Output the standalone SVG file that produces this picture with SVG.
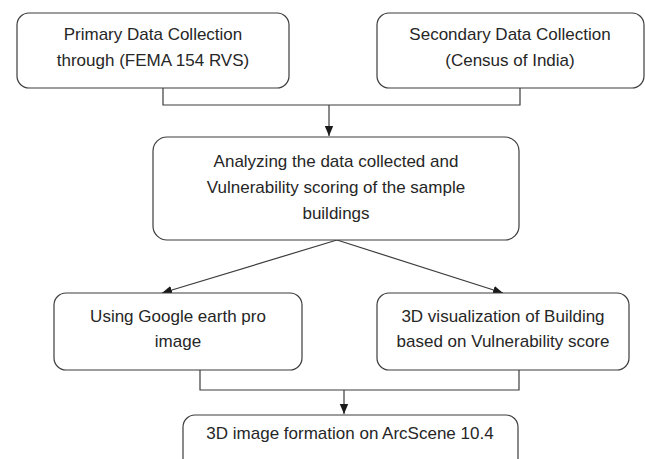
<svg xmlns="http://www.w3.org/2000/svg" width="645" height="459" viewBox="0 0 645 459">
  <style>
    .box { fill: #ffffff; stroke: #3c3c3c; stroke-width: 1.2; }
    .lbl { font-family: "Liberation Sans", Arial, sans-serif; font-size: 17px; fill: #262626; text-anchor: middle; }
    .wire { fill: none; stroke: #3c3c3c; stroke-width: 1.2; }
  </style>
  <defs>
    <marker id="arrow" markerUnits="userSpaceOnUse" markerWidth="10" markerHeight="10" viewBox="0 0 10 10" refX="10" refY="5" orient="auto">
      <path d="M0,0.8 L10,5 L0,9.2 Z" fill="#1a1a1a"/>
    </marker>
  </defs>
  <rect width="645" height="459" fill="#ffffff"/>

  <g id="connectors">
    <path class="wire" d="M163 88 V105 H520 V88"/>
    <path class="wire" d="M329 105 V136" marker-end="url(#arrow)"/>
    <path class="wire" d="M337 240 L162 293" marker-end="url(#arrow)"/>
    <path class="wire" d="M337 240 L503 293" marker-end="url(#arrow)"/>
    <path class="wire" d="M200 370 V390 H519 V370"/>
    <path class="wire" d="M344 390 V414" marker-end="url(#arrow)"/>
  </g>

  <g id="primary">
    <rect class="box" x="17" y="13" width="272" height="75" rx="12"/>
    <text class="lbl" x="153" y="40">Primary Data Collection</text>
    <text class="lbl" x="153" y="66">through (FEMA 154 RVS)</text>
  </g>

  <g id="secondary">
    <rect class="box" x="377" y="13" width="267" height="75" rx="12"/>
    <text class="lbl" x="510" y="40">Secondary Data Collection</text>
    <text class="lbl" x="510" y="66">(Census of India)</text>
  </g>

  <g id="analysis">
    <rect class="box" x="153" y="137" width="366" height="103" rx="14"/>
    <text class="lbl" x="336" y="167">Analyzing the data collected and</text>
    <text class="lbl" x="336" y="193">Vulnerability scoring of the sample</text>
    <text class="lbl" x="336" y="219">buildings</text>
  </g>

  <g id="google-earth">
    <rect class="box" x="54" y="293" width="248" height="77" rx="12"/>
    <text class="lbl" x="178" y="322">Using Google earth pro</text>
    <text class="lbl" x="178" y="347">image</text>
  </g>

  <g id="visualization">
    <rect class="box" x="377" y="293" width="252" height="77" rx="12"/>
    <text class="lbl" x="503" y="322">3D visualization of Building</text>
    <text class="lbl" x="503" y="347">based on Vulnerability score</text>
  </g>

  <g id="arcscene">
    <rect class="box" x="183" y="415" width="335" height="70" rx="12"/>
    <text class="lbl" x="350" y="439">3D image formation on ArcScene 10.4</text>
  </g>
</svg>
